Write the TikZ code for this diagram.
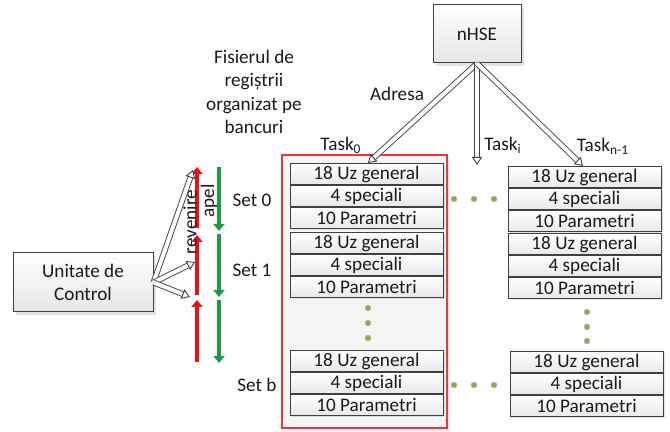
\documentclass[tikz,border=0pt]{standalone}
\usepackage{fontspec}
\setmainfont{Carlito}
\usetikzlibrary{arrows.meta,shadows}
\definecolor{boxline}{HTML}{404040}
\definecolor{txt}{HTML}{1A1A1A}
\definecolor{redframe}{HTML}{E8393A}
\definecolor{arrred}{HTML}{E2141A}
\definecolor{arrgreen}{HTML}{1E9A48}
\definecolor{dotgreen}{HTML}{7DB543}
\tikzset{
  regrow/.style={draw=boxline, line width=0.5pt, top color=white, bottom color=black!9,
    minimum width=76.5pt, minimum height=10.5pt, inner sep=0pt, anchor=north, text=txt,
    drop shadow={shadow xshift=1pt, shadow yshift=-1pt, fill=black!22}},
  bigbox/.style={draw=boxline, line width=0.5pt, top color=white, bottom color=black!10,
    inner sep=0pt, text=txt, align=center,
    drop shadow={shadow xshift=1.5pt, shadow yshift=-1.5pt, fill=black!22}},
  hollow/.style={draw=boxline, line width=0.45pt, double=white, double distance=2pt,
    -{Triangle[length=4pt, width=5pt, fill=white]}},
  redarr/.style={draw=arrred, line width=2pt, -{Triangle[length=3.5pt, width=5.5pt]}},
  greenarr/.style={draw=arrgreen, line width=2pt, -{Triangle[length=3.5pt, width=5.5pt]}},
  gdot/.style={circle, fill=dotgreen, draw=black!30, line width=0.4pt, minimum size=2.8pt, inner sep=0pt},
  lbl/.style={text=txt, inner sep=0pt}
}
\newcommand\regbank[3]{%
  \node[regrow] (#1a) at (#2,#3) {18 Uz general};
  \node[regrow] (#1b) at (#1a.south) {4 speciali};
  \node[regrow] (#1c) at (#1b.south) {10 Parametri};}
\begin{document}
\begin{tikzpicture}[x=0.5pt, y=-0.5pt, font=\fontsize{9.6pt}{11.7pt}\selectfont]
\useasboundingbox (0,0) rectangle (670,432);

% red frame of task 0
\draw[draw=redframe, line width=0.6pt, fill=black!4,
  drop shadow={shadow xshift=1.5pt, shadow yshift=-1.5pt, fill=black!15}]
  (282,155) rectangle (447,428);

% banks
\regbank{La}{366.5}{163}
\regbank{Lb}{366.5}{232}
\regbank{Lc}{366.5}{350}
\regbank{Ra}{584.5}{166}
\regbank{Rb}{584.5}{233}
\regbank{Rc}{586.5}{351}

% nHSE
\node[bigbox, minimum width=44pt, minimum height=29pt] (nhse) at (477,34) {nHSE};
% Unitate de Control
\node[bigbox, minimum width=70pt, minimum height=29.5pt] (uc) at (83,282.5) {Unitate de\\Control};

% title
\node[lbl, align=center] (title) at (254,92) {Fisierul de\\regiștrii\\organizat pe\\bancuri};
\node[lbl] (adresa) at (397,94) {Adresa};
\node[lbl] (t0) at (341,145) {Task\textsubscript{0}};
\node[lbl] (ti) at (503,145) {Task\textsubscript{i}};
\node[lbl] (tn) at (603,146) {Task\textsubscript{n-1}};

% set labels
\node[lbl] (s0) at (252,200) {Set 0};
\node[lbl] (s1) at (252,270) {Set 1};
\node[lbl] (sb) at (257,385) {Set b};

% red / green arrows
\coordinate (r0s) at (197,228); \coordinate (r0e) at (197,167);
\coordinate (r1s) at (197,295); \coordinate (r1e) at (197,235);
\coordinate (r2s) at (197,362); \coordinate (r2e) at (197,300);
\coordinate (g0s) at (219,167); \coordinate (g0e) at (219,231);
\coordinate (g1s) at (219,234); \coordinate (g1e) at (219,297);
\coordinate (g2s) at (219,300); \coordinate (g2e) at (219,363);
\draw[redarr] (r0s) -- (r0e);
\draw[redarr] (r1s) -- (r1e);
\draw[redarr] (r2s) -- (r2e);
\draw[greenarr] (g0s) -- (g0e);
\draw[greenarr] (g1s) -- (g1e);
\draw[greenarr] (g2s) -- (g2e);

\node[lbl, rotate=90] (rev) at (190,222) {revenire};
\node[lbl, rotate=90] (apel) at (209,201) {apel};

% hollow arrows from control unit
\coordinate (c0) at (193,170);
\coordinate (c1) at (195,262);
\coordinate (c2) at (190,297);
\draw[hollow] (uc.east) -- (c0);
\draw[hollow] (uc.east) -- (c1);
\draw[hollow] (uc.east) -- (c2);

% hollow arrows from nHSE
\coordinate (ti0) at (368,163);
\coordinate (tii) at (477,165);
\coordinate (tin) at (583,166);
\draw[hollow] (nhse.south) -- (ti0);
\draw[hollow] (nhse.south) -- (tii);
\draw[hollow] (nhse.south) -- (tin);

% dots
\node[gdot] (h1) at (454,199) {};
\node[gdot] (h2) at (474,199) {};
\node[gdot] (h3) at (494,199) {};
\node[gdot] (h4) at (454,385) {};
\node[gdot] (h5) at (474,385) {};
\node[gdot] (h6) at (494,385) {};
\node[gdot] (v1) at (368,308) {};
\node[gdot] (v2) at (368,323) {};
\node[gdot] (v3) at (368,338) {};
\node[gdot] (v4) at (587,312) {};
\node[gdot] (v5) at (587,327) {};
\node[gdot] (v6) at (587,341) {};
\end{tikzpicture}
\end{document}
